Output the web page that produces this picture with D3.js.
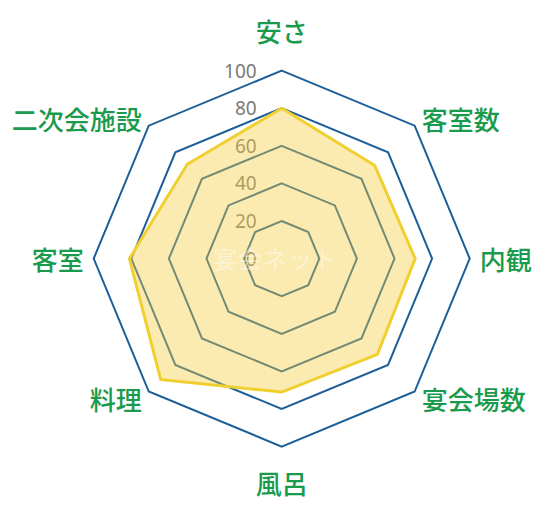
<!DOCTYPE html>
<html>
<head>
<meta charset="utf-8">
<script src="https://cdn.jsdelivr.net/npm/d3@7"></script>
<style>
  html, body { margin: 0; padding: 0; background: #fff; }
  svg { display: block; }
</style>
</head>
<body>
<svg id="chart" width="541" height="510"></svg>
<script>
// axis names, clockwise from the top
const categories = ["安さ", "客室数", "内観", "宴会場数", "風呂", "料理", "客室", "二次会施設"];
// scores
const scores = [80, 70, 71, 72, 71, 91, 81, 71];
const tickValues = [0, 20, 40, 60, 80, 100];
const watermark = "宴会ネット";

const width = 541, height = 510;
const cx = 281.7, cy = 258.6, R = 188;

const svg = d3.select("#chart");
const g = svg.append("g").attr("transform", `translate(${cx},${cy})`);

const r = d3.scaleLinear().domain([0, 100]).range([0, R]);
const angle = d3.scalePoint()
  .domain(categories)
  .range([0, 2 * Math.PI * (categories.length - 1) / categories.length]);

const radial = d3.lineRadial()
  .angle(d => d.a)
  .radius(d => d.r)
  .curve(d3.curveLinearClosed);

/* grid rings */
g.selectAll("path.ring")
  .data(tickValues.filter(v => v > 0))
  .join("path")
  .attr("class", "ring")
  .attr("d", v => radial(categories.map(c => ({ a: angle(c), r: r(v) }))))
  .attr("fill", "none")
  .attr("stroke", "#1b5e98")
  .attr("stroke-width", 2);

/* tick labels */
g.selectAll("text.tick")
  .data(tickValues)
  .join("text")
  .attr("class", "tick")
  .attr("x", -25)
  .attr("y", v => -r(v))
  .attr("text-anchor", "end")
  .attr("dominant-baseline", "central")
  .attr("font-family", "'Noto Sans', 'Open Sans', sans-serif")
  .attr("font-size", 19)
  .attr("fill", "#7a7a7a")
  .text(d => d);

/* data polygon */
g.append("path")
  .attr("d", radial(categories.map((c, i) => ({ a: angle(c), r: r(scores[i]) }))))
  .attr("fill", "rgba(247, 205, 60, 0.4)")
  .attr("stroke", "#f0d030")
  .attr("stroke-width", 3)
  .attr("stroke-linejoin", "round");

/* axis labels */
g.selectAll("text.label")
  .data(categories)
  .join("text")
  .attr("class", "label")
  .each(function (c) {
    const a = angle(c);
    const s = Math.sin(a), k = -Math.cos(a);
    const t = d3.select(this);
    if (Math.abs(s) < 0.01) {
      // top / bottom
      const d = k < 0 ? R + 40 : R + 36;
      t.attr("x", 0).attr("y", k * d).attr("text-anchor", "middle");
    } else {
      const d = R + 10;
      t.attr("x", s * d).attr("y", k * d)
        .attr("text-anchor", s > 0 ? "start" : "end");
    }
  })
  .attr("dominant-baseline", "central")
  .attr("font-family", "'Noto Sans CJK JP', sans-serif")
  .attr("font-weight", 500)
  .attr("font-size", 26)
  .attr("fill", "#1a9a4c")
  .text(d => d);

/* watermark */
g.append("text")
  .attr("x", -6)
  .attr("y", -1)
  .attr("text-anchor", "middle")
  .attr("dominant-baseline", "central")
  .attr("font-family", "'Noto Sans CJK JP', sans-serif")
  .attr("font-size", 24)
  .attr("letter-spacing", 1)
  .attr("fill", "rgba(255,255,255,0.45)")
  .text(watermark);
</script>
</body>
</html>
